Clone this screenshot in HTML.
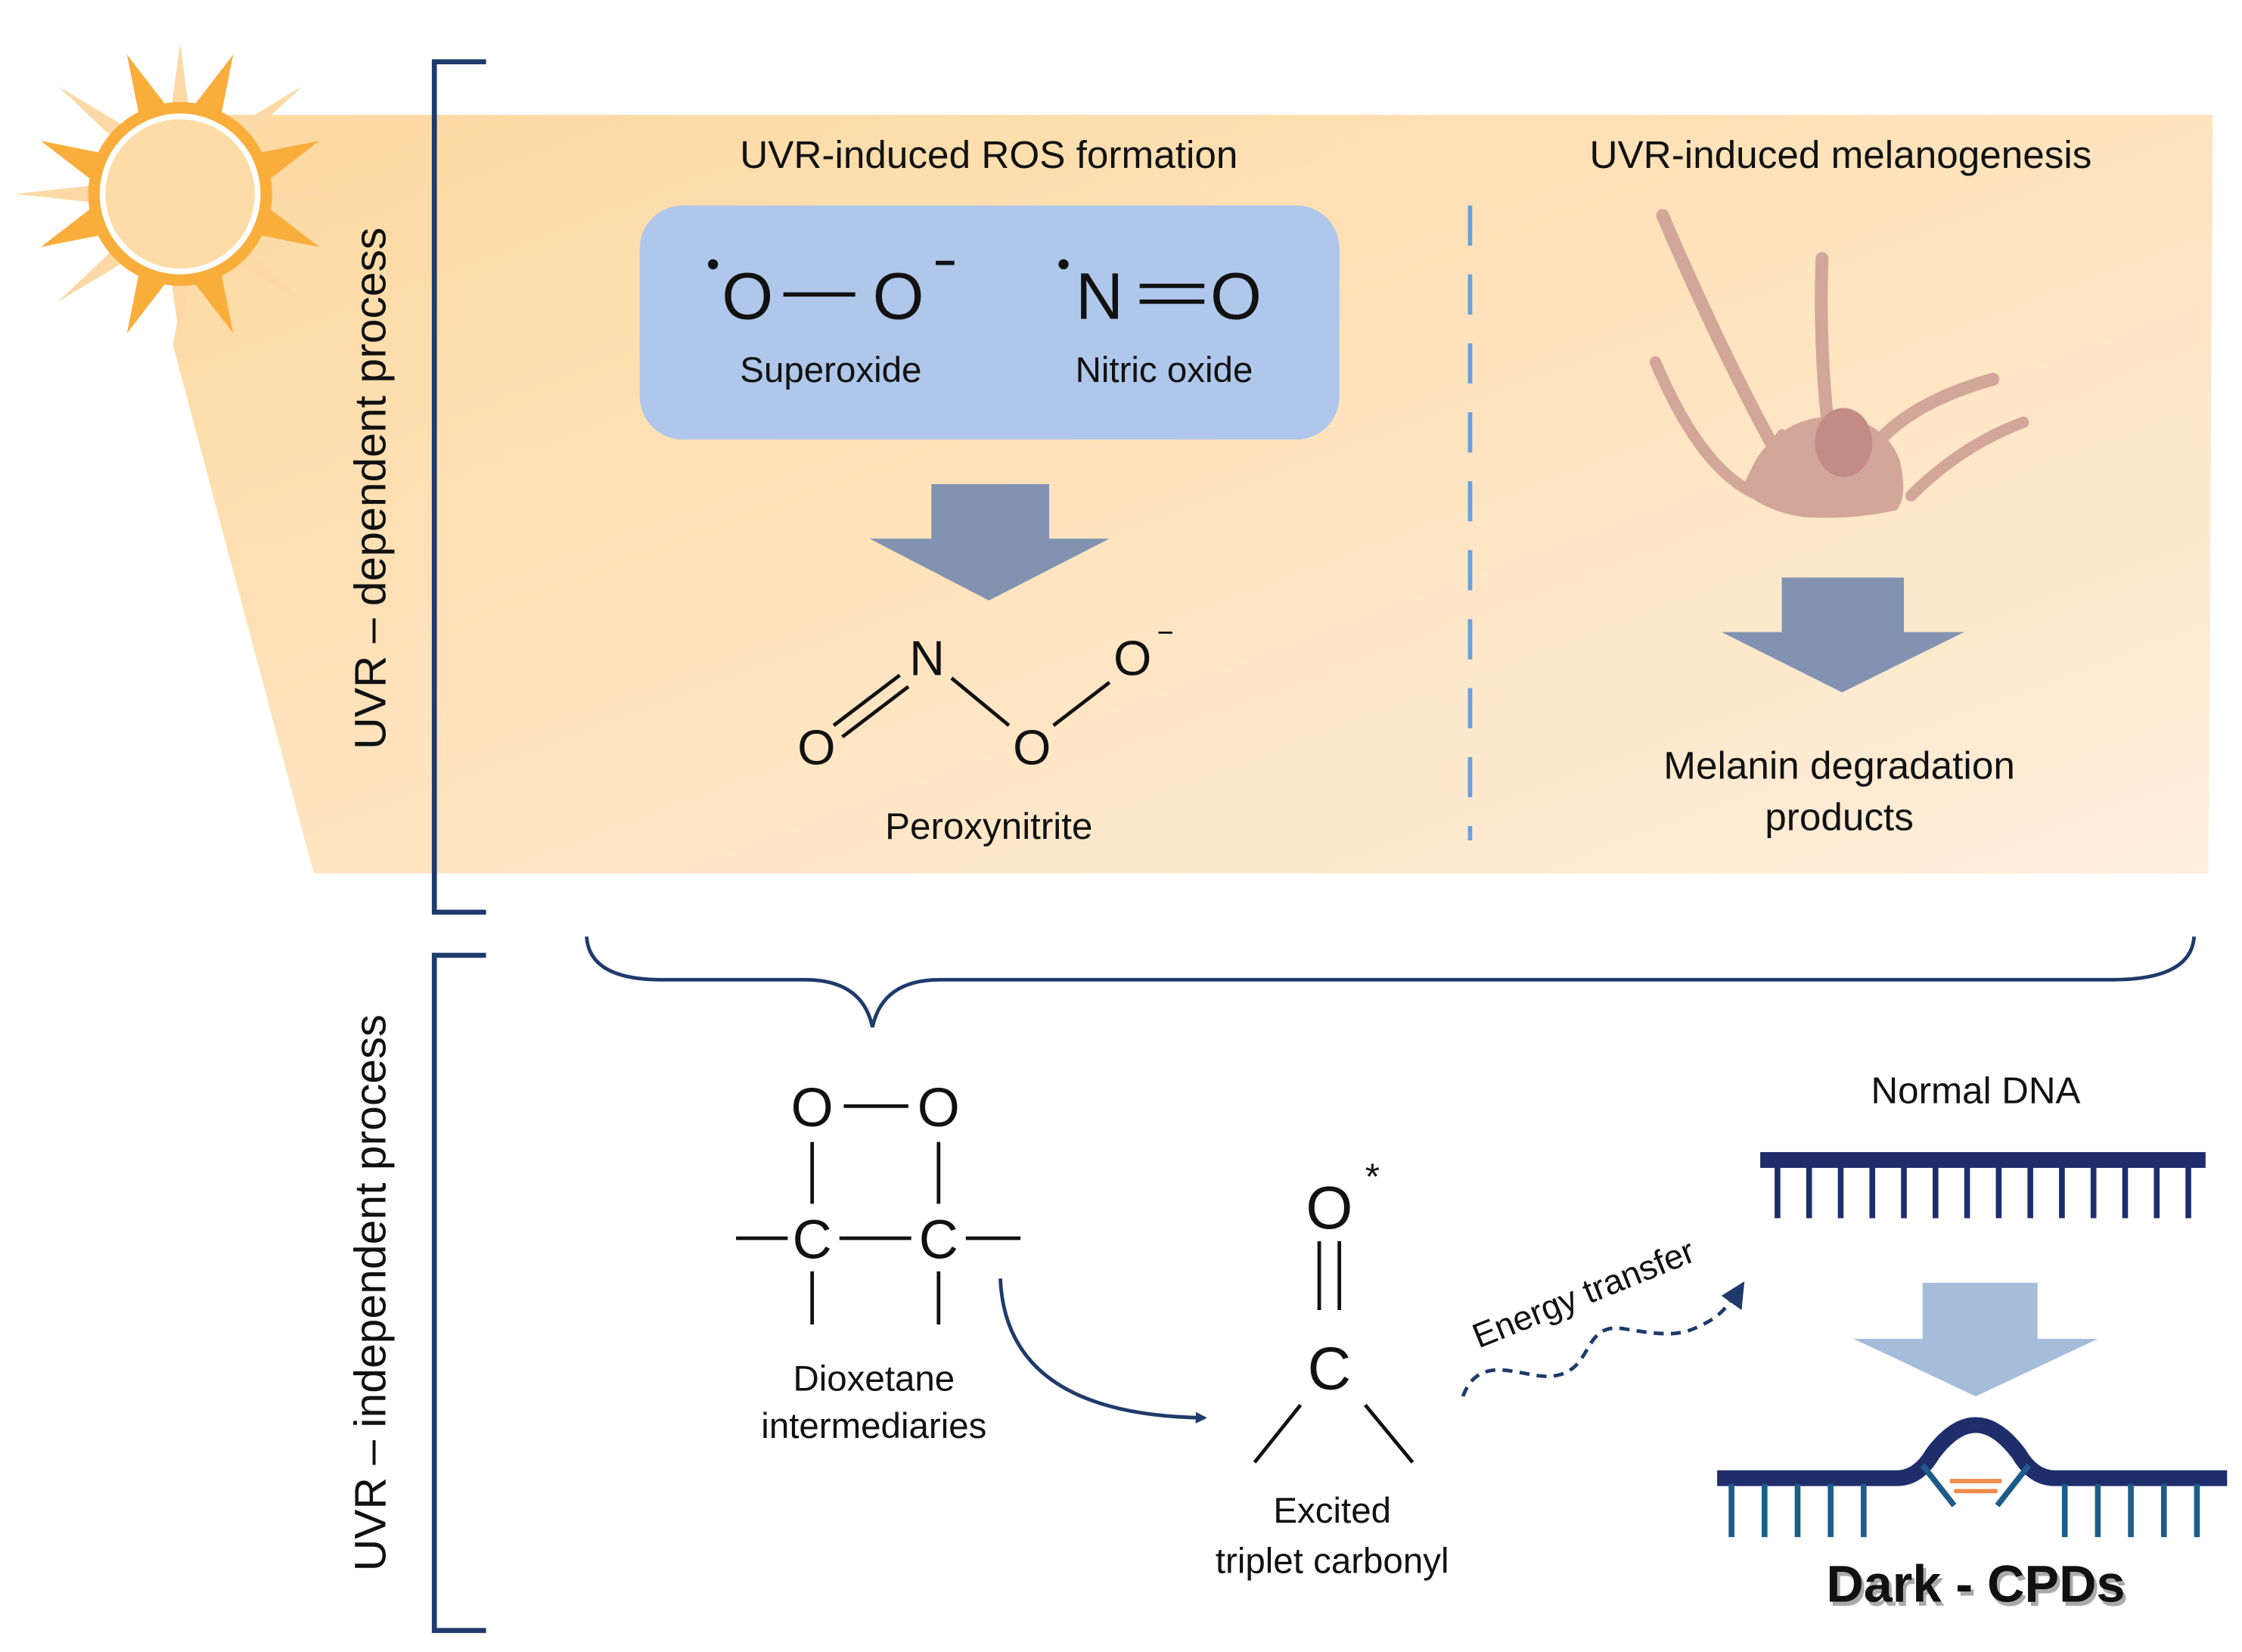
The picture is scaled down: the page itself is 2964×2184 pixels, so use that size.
<!DOCTYPE html>
<html><head><meta charset="utf-8"><style>
html,body{margin:0;padding:0;background:#fff}
svg{display:block}
text{font-family:"Liberation Sans",sans-serif;fill:#111}
</style></head><body>
<svg width="2964" height="2184" viewBox="0 0 1560 1150" xmlns="http://www.w3.org/2000/svg">
<defs>
<linearGradient id="beam" x1="0" y1="0" x2="1" y2="1">
<stop offset="0" stop-color="#FDD9A0"/><stop offset="1" stop-color="#FEEEDC"/>
</linearGradient>
<marker id="ah" markerWidth="8" markerHeight="8" refX="6" refY="4" orient="auto" markerUnits="userSpaceOnUse">
<path d="M0,0 L8,4 L0,8 Z" fill="#1F3A6B"/></marker>
</defs>
<polygon points="150,80 1540,80 1537,608 218,608 120,240" fill="url(#beam)"/>
<g transform="translate(125,135)">
<g fill="#FCD9A6">
<polygon points="-6,-60 0,-105 6,-60"/><polygon points="-6,60 0,105 6,60"/>
<polygon points="-60,-6 -115,0 -60,6"/><polygon points="60,-6 115,0 60,6"/>
<polygon points="-48,-40 -85,-75 -40,-48"/><polygon points="48,-40 85,-75 40,-48"/>
<polygon points="-48,40 -85,75 -40,48"/><polygon points="48,40 85,75 40,48"/>
</g>
<g fill="#F9AE3C">
<polygon points="-28,-52 -37,-97 -10,-62"/><polygon points="28,-52 37,-97 10,-62"/>
<polygon points="-28,52 -37,97 -10,62"/><polygon points="28,52 37,97 10,62"/>
<polygon points="-52,-28 -97,-37 -62,-10"/><polygon points="52,-28 97,-37 62,-10"/>
<polygon points="-52,28 -97,37 -62,10"/><polygon points="52,28 97,37 62,10"/>
</g>
<circle r="64" fill="#F9AE3C"/>
<circle r="54" fill="#FDDCA8" stroke="#fff" stroke-width="4"/>
</g>
<g stroke="#1F3A6B" stroke-width="3.5" fill="none">
<polyline points="338,43 302,43 302,635 338,635"/>
<polyline points="338,665 302,665 302,1135 338,1135"/>
</g>
<text transform="translate(268,340) rotate(-90)" text-anchor="middle" font-size="31">UVR – dependent process</text>
<text transform="translate(268,900) rotate(-90)" text-anchor="middle" font-size="31">UVR – independent process</text>
<text x="688" y="117" text-anchor="middle" font-size="27">UVR-induced ROS formation</text>
<rect x="445" y="143" width="487" height="163" rx="30" fill="#AEC7EA"/>
<text x="520" y="222" text-anchor="middle" font-size="46">O</text>
<line x1="545" y1="205" x2="595" y2="205" stroke="#111" stroke-width="3"/>
<text x="625" y="222" text-anchor="middle" font-size="46">O</text>
<circle cx="496" cy="184" r="3.5" fill="#111"/>
<line x1="651" y1="183" x2="664" y2="183" stroke="#111" stroke-width="3"/>
<text x="765" y="222" text-anchor="middle" font-size="46">N</text>
<circle cx="740" cy="184" r="3.5" fill="#111"/>
<line x1="793" y1="199" x2="838" y2="199" stroke="#111" stroke-width="3"/>
<line x1="793" y1="210" x2="838" y2="210" stroke="#111" stroke-width="3"/>
<text x="860" y="222" text-anchor="middle" font-size="46">O</text>
<text x="578" y="266" text-anchor="middle" font-size="25">Superoxide</text>
<text x="810" y="266" text-anchor="middle" font-size="25">Nitric oxide</text>
<polygon points="648,337 730,337 730,375 772,375 688,418 605,375 648,375" fill="#8193B0"/>
<g font-size="34" text-anchor="middle">
<text x="645" y="470">N</text><text x="568" y="532">O</text><text x="718" y="532">O</text><text x="788" y="470">O</text>
</g>
<text x="805" y="447" font-size="20">−</text>
<g stroke="#111" stroke-width="2.5">
<line x1="580" y1="505" x2="626" y2="470"/><line x1="586" y1="513" x2="632" y2="478"/>
<line x1="662" y1="472" x2="702" y2="505"/><line x1="733" y1="505" x2="772" y2="475"/>
</g>
<text x="688" y="584" text-anchor="middle" font-size="26">Peroxynitrite</text>
<line x1="1023" y1="143" x2="1023" y2="585" stroke="#6A9FDB" stroke-width="3" stroke-dasharray="28,20"/>
<text x="1281" y="117" text-anchor="middle" font-size="27">UVR-induced melanogenesis</text>
<!-- melanocyte -->
<g fill="none" stroke="#D3A69A" stroke-linecap="round">
<path d="M1157,150 Q1200,250 1238,318" stroke-width="9"/>
<path d="M1268,180 Q1266,240 1272,295" stroke-width="9"/>
<path d="M1152,252 Q1185,330 1225,345" stroke-width="8"/>
<path d="M1387,264 Q1330,280 1305,310" stroke-width="9"/>
<path d="M1408,294 Q1365,310 1330,345" stroke-width="8"/>
</g>
<path d="M1222,320 Q1240,292 1272,290 Q1310,290 1322,320 Q1328,345 1320,355 Q1290,362 1255,360 Q1225,355 1212,340 Z" fill="#D3A69A"/>
<path d="M1245,305 Q1240,290 1232,310 Z" fill="#D3A69A"/>
<ellipse cx="1283" cy="308" rx="20" ry="24" fill="#C28C84"/>
<polygon points="1240,402 1325,402 1325,440 1367,440 1282,482 1198,440 1240,440" fill="#8193B0"/>
<text x="1280" y="542" text-anchor="middle" font-size="27">Melanin degradation</text>
<text x="1280" y="578" text-anchor="middle" font-size="27">products</text>
<path d="M408,652 Q410,682 460,682 L560,682 Q600,682 607,715 Q614,682 654,682 L1470,682 Q1525,682 1527,652" fill="none" stroke="#1F3A6B" stroke-width="2.5"/>
<g font-size="38" text-anchor="middle">
<text x="565" y="784">O</text><text x="653" y="784">O</text>
<text x="565" y="876">C</text><text x="653" y="876">C</text>
</g>
<g stroke="#111" stroke-width="2.5">
<line x1="587" y1="770" x2="632" y2="770"/>
<line x1="565" y1="795" x2="565" y2="838"/><line x1="653" y1="795" x2="653" y2="838"/>
<line x1="512" y1="862" x2="548" y2="862"/><line x1="584" y1="862" x2="634" y2="862"/><line x1="672" y1="862" x2="710" y2="862"/>
<line x1="565" y1="885" x2="565" y2="922"/><line x1="653" y1="885" x2="653" y2="922"/>
</g>
<text x="608" y="968" text-anchor="middle" font-size="25">Dioxetane</text>
<text x="608" y="1001" text-anchor="middle" font-size="25">intermediaries</text>
<path d="M696,890 Q700,985 838,987" fill="none" stroke="#1F3A6B" stroke-width="2.5" marker-end="url(#ah)"/>
<text x="925" y="855" text-anchor="middle" font-size="42">O</text>
<text x="955" y="828" text-anchor="middle" font-size="26">*</text>
<g stroke="#111" stroke-width="2.5">
<line x1="918" y1="864" x2="918" y2="912"/><line x1="932" y1="864" x2="932" y2="912"/>
<line x1="905" y1="978" x2="873" y2="1018"/><line x1="950" y1="978" x2="983" y2="1018"/>
</g>
<text x="925" y="967" text-anchor="middle" font-size="42">C</text>
<text x="927" y="1060" text-anchor="middle" font-size="25">Excited</text>
<text x="927" y="1095" text-anchor="middle" font-size="25">triplet carbonyl</text>
<text transform="translate(1105,908) rotate(-22)" text-anchor="middle" font-size="24">Energy transfer</text>
<path d="M1018,972 C1030,940 1060,960 1080,958 C1110,955 1100,920 1130,925 C1160,930 1170,930 1185,922 C1200,915 1205,905 1208,898" fill="none" stroke="#1F3A6B" stroke-width="2.5" stroke-dasharray="7,5"/>
<polygon points="1214,892 1212,912 1198,902" fill="#1F3A6B"/>
<text x="1375" y="768" text-anchor="middle" font-size="26">Normal DNA</text>
<rect x="1225" y="802" width="310" height="11" fill="#1F2D6B"/>
<g stroke="#1F2D6B" stroke-width="4">
<line x1="1237" y1="812" x2="1237" y2="848"/><line x1="1259" y1="812" x2="1259" y2="848"/><line x1="1281" y1="812" x2="1281" y2="848"/><line x1="1303" y1="812" x2="1303" y2="848"/><line x1="1325" y1="812" x2="1325" y2="848"/><line x1="1347" y1="812" x2="1347" y2="848"/><line x1="1369" y1="812" x2="1369" y2="848"/><line x1="1391" y1="812" x2="1391" y2="848"/><line x1="1413" y1="812" x2="1413" y2="848"/><line x1="1435" y1="812" x2="1435" y2="848"/><line x1="1457" y1="812" x2="1457" y2="848"/><line x1="1479" y1="812" x2="1479" y2="848"/><line x1="1501" y1="812" x2="1501" y2="848"/><line x1="1523" y1="812" x2="1523" y2="848"/>
</g>
<polygon points="1338,893 1418,893 1418,932 1460,932 1375,972 1290,932 1338,932" fill="#A6BCDB"/>
<path d="M1195,1029 L1320,1029 Q1335,1029 1345,1012 Q1360,992 1375,992 Q1390,992 1405,1012 Q1415,1029 1430,1029 L1550,1029" fill="none" stroke="#1F2D6B" stroke-width="11"/>
<g stroke="#1C5C8A" stroke-width="4">
<line x1="1205" y1="1033" x2="1205" y2="1070"/><line x1="1228" y1="1033" x2="1228" y2="1070"/><line x1="1251" y1="1033" x2="1251" y2="1070"/><line x1="1274" y1="1033" x2="1274" y2="1070"/><line x1="1297" y1="1033" x2="1297" y2="1070"/>
<line x1="1338" y1="1020" x2="1360" y2="1048"/><line x1="1412" y1="1020" x2="1390" y2="1048"/>
<line x1="1437" y1="1033" x2="1437" y2="1070"/><line x1="1460" y1="1033" x2="1460" y2="1070"/><line x1="1483" y1="1033" x2="1483" y2="1070"/><line x1="1506" y1="1033" x2="1506" y2="1070"/><line x1="1529" y1="1033" x2="1529" y2="1070"/>
</g>
<g stroke="#F08A4B" stroke-width="3">
<line x1="1357" y1="1031" x2="1393" y2="1031"/><line x1="1360" y1="1038" x2="1390" y2="1038"/>
</g>
<text x="1377" y="1118" text-anchor="middle" font-size="36" font-weight="bold" style="fill:#aaa">Dark - CPDs</text>
<text x="1375" y="1115" text-anchor="middle" font-size="36" font-weight="bold">Dark - CPDs</text>
</svg>
</body></html>
